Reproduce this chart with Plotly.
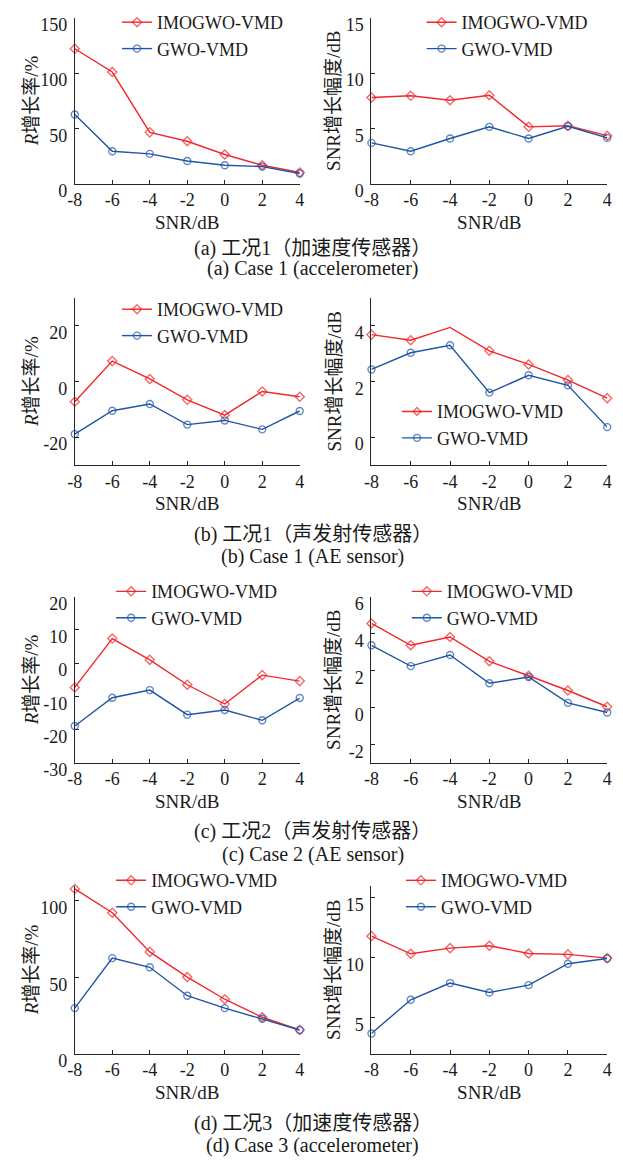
import plotly.graph_objects as go

# ---------------- data ----------------
snr = [-8, -6, -4, -2, 0, 2, 4]
x_tickvals = [-8, -6, -4, -2, 0, 2, 4]
x_ticktext = ["-8", "-6", "-4", "-2", "0", "2", "4"]

# (a) Case 1, accelerometer
a_R_imo = [122.0, 101.0, 46.5, 38.5, 26.5, 16.8, 10.3]
a_R_gwo = [62.6, 29.4, 27.1, 20.6, 16.8, 15.6, 9.4]
a_S_imo = [7.80, 7.95, 7.55, 8.00, 5.15, 5.25, 4.35]
a_S_gwo = [3.70, 2.95, 4.10, 5.15, 4.10, 5.20, 4.15]
# (b) Case 1, AE sensor
b_R_imo = [-7.3, 7.3, 0.9, -6.6, -12.1, -3.6, -5.5]
b_R_gwo = [-18.9, -10.5, -8.1, -15.5, -14.0, -17.2, -10.6]
b_S_imo = [3.68, 3.48, 3.94, 3.10, 2.61, 2.05, 1.40]
b_S_gwo = [2.43, 3.03, 3.30, 1.60, 2.22, 1.86, 0.36]
# (c) Case 2, AE sensor
c_R_imo = [-7.3, 7.4, 1.0, -6.5, -12.3, -3.6, -5.4]
c_R_gwo = [-18.9, -10.4, -8.1, -15.5, -14.1, -17.2, -10.5]
c_S_imo = [4.55, 3.37, 3.82, 2.50, 1.72, 0.92, 0.04]
c_S_gwo = [3.37, 2.24, 2.84, 1.31, 1.65, 0.25, -0.27]
# (d) Case 3, accelerometer
d_R_imo = [107.9, 92.3, 66.7, 50.2, 35.7, 23.9, 15.6]
d_R_gwo = [29.9, 62.6, 56.6, 38.0, 29.9, 22.9, 15.6]
d_S_imo = [11.80, 10.33, 10.80, 11.00, 10.36, 10.28, 9.97]
d_S_gwo = [3.69, 6.50, 7.89, 7.11, 7.72, 9.50, 9.94]

name_imo = "IMOGWO-VMD"
name_gwo = "GWO-VMD"

# y-axis ranges / ticks per panel
yranges = {
    "aL": [0, 150], "aR": [0, 15],
    "bL": [-30, 30], "bR": [-1, 5],
    "cL": [-30, 20], "cR": [-3, 6],
    "dL": [0, 110], "dR": [2, 16],
}
yticks = {
    "aL": [0, 50, 100, 150], "aR": [0, 5, 10, 15],
    "bL": [-20, 0, 20], "bR": [0, 2, 4],
    "cL": [-30, -20, -10, 0, 10, 20], "cR": [-2, 0, 2, 4, 6],
    "dL": [0, 50, 100], "dR": [5, 10, 15],
}

ytitle_L = "<i>R</i>增长率/%"
ytitle_R = "SNR增长幅度/dB"
xtitle = "SNR/dB"

captions = [
    ("(a) 工况1（加速度传感器）", "(a) Case 1 (accelerometer)"),
    ("(b) 工况1（声发射传感器）", "(b) Case 1 (AE sensor)"),
    ("(c) 工况2（声发射传感器）", "(c) Case 2 (AE sensor)"),
    ("(d) 工况3（加速度传感器）", "(d) Case 3 (accelerometer)"),
]

panels = [
    ("aL", a_R_imo, a_R_gwo), ("aR", a_S_imo, a_S_gwo),
    ("bL", b_R_imo, b_R_gwo), ("bR", b_S_imo, b_S_gwo),
    ("cL", c_R_imo, c_R_gwo), ("cR", c_S_imo, c_S_gwo),
    ("dL", d_R_imo, d_R_gwo), ("dR", d_S_imo, d_S_gwo),
]

# ---------------- layout geometry (pixels) ----------------
W, H = 623, 1175
xdom_px = {"L": (69, 298), "R": (371, 611)}
ydom_px = {"a": (15, 184), "b": (300, 470), "c": (604, 773), "d": (898, 1069)}
legend_px = {  # left, top of legend box
    "aL": (112, 1), "aR": (422, 1),
    "bL": (112, 293), "bR": (397, 397),
    "cL": (106, 580), "cR": (407, 580),
    "dL": (106, 874), "dR": (401, 874),
}
caption_px = {"a": (250, 270), "b": (541, 563), "c": (843, 866), "d": (1140, 1162)}
ytitle_x_px = {"L": 25, "R": 333}

# points drawn without a marker (as in the original figure)
no_marker = {("bR", "imo"): [2]}

RED = "#f2262b"
BLUE = "#1f54a6"
AX = "#262626"
TXT = "#1a1a1a"
FONT = "Liberation Serif, Times New Roman, Noto Sans CJK SC, serif"
MS = 7

fig = go.Figure()
layout = dict(
    width=W, height=H,
    margin=dict(l=0, r=0, t=0, b=0),
    paper_bgcolor="white", plot_bgcolor="white",
    font=dict(family=FONT, size=18, color=TXT),
    annotations=[],
)

for i, (key, imo, gwo) in enumerate(panels):
    n = i + 1
    xa = "xaxis" if n == 1 else f"xaxis{n}"
    ya = "yaxis" if n == 1 else f"yaxis{n}"
    xr = "x" if n == 1 else f"x{n}"
    yr = "y" if n == 1 else f"y{n}"
    lg = "legend" if n == 1 else f"legend{n}"
    row, side = key[0], key[1]
    x0, x1 = xdom_px[side]
    t, b = ydom_px[row]

    for tag, ys, col, sym in (("imo", imo, RED, "diamond-open"), ("gwo", gwo, BLUE, "circle-open")):
        sizes = [MS] * len(ys)
        for j in no_marker.get((key, tag), []):
            sizes[j] = 0
        fig.add_trace(go.Scatter(
            x=snr, y=ys, mode="lines+markers",
            name=name_imo if tag == "imo" else name_gwo,
            line=dict(color=col, width=1.4),
            marker=dict(symbol=sym, size=sizes, color=col, line=dict(width=1.4, color=col)),
            xaxis=xr, yaxis=yr, legend=lg, cliponaxis=False,
        ))

    layout[xa] = dict(
        domain=[x0 / W, x1 / W], anchor=yr, range=[-8, 4],
        tickvals=x_tickvals, ticktext=x_ticktext,
        showline=True, linecolor=AX, linewidth=1, mirror=False,
        ticks="inside", ticklen=4, tickcolor=AX, showgrid=False, zeroline=False,
        tickfont=dict(size=18, color=TXT), ticklabelstandoff=0,
        title=dict(text=xtitle, font=dict(size=19), standoff=6),
    )
    yt = yticks[key]
    layout[ya] = dict(
        domain=[1 - b / H, 1 - t / H], anchor=xr, range=yranges[key],
        tickvals=yt, ticktext=[str(v) for v in yt],
        showline=True, linecolor=AX, linewidth=1, mirror=False,
        ticks="inside", ticklen=4, tickcolor=AX, showgrid=False, zeroline=False,
        tickfont=dict(size=18, color=TXT), ticklabelshift=7, ticklabelstandoff=3,
    )
    lx, ly = legend_px[key]
    layout[lg] = dict(
        x=lx / W, y=1 - ly / H, xanchor="left", yanchor="top",
        bgcolor="rgba(0,0,0,0)", borderwidth=0, itemwidth=30,
        font=dict(size=18, family=FONT, color=TXT),
        tracegroupgap=0,
    )
    layout["annotations"].append(dict(
        text=ytitle_L if side == "L" else ytitle_R,
        x=ytitle_x_px[side] / W, y=1 - ((t + b) / 2) / H,
        xref="paper", yref="paper", xanchor="center", yanchor="middle",
        textangle=-90, showarrow=False, font=dict(size=19, family=FONT),
    ))

for row, (zh, en) in zip("abcd", captions):
    y1, y2 = caption_px[row]
    for txt, yy in ((zh, y1), (en, y2)):
        layout["annotations"].append(dict(
            text=txt, x=311 / W, y=1 - yy / H, xref="paper", yref="paper",
            xanchor="center", yanchor="middle", showarrow=False,
            font=dict(size=20, family=FONT),
        ))

fig.update_layout(**layout)
fig.write_html("out.html")
